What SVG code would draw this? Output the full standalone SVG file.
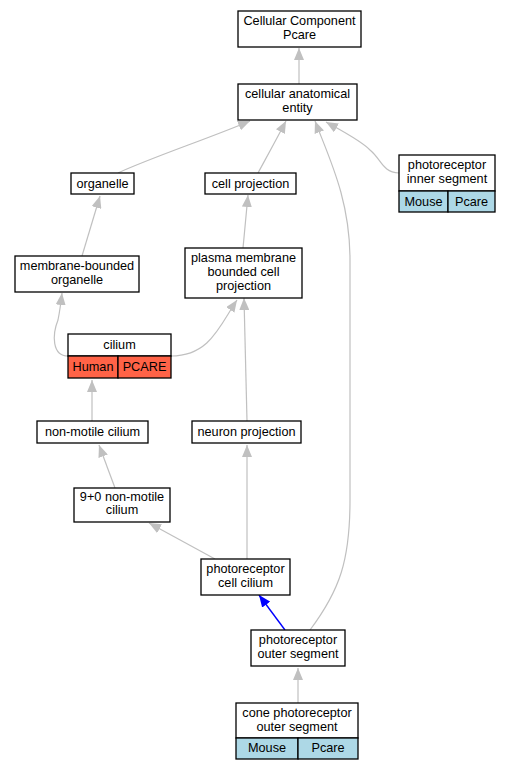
<svg xmlns="http://www.w3.org/2000/svg" width="509" height="771" viewBox="0 0 509 771">
<defs>
<marker id="ag" viewBox="0 0 12 10" refX="12" refY="5" markerWidth="12" markerHeight="10" markerUnits="userSpaceOnUse" orient="auto"><path d="M0,0 L12,5 L0,10 z" fill="#c0c0c0"/></marker>
<marker id="ab" viewBox="0 0 12 10" refX="12" refY="5" markerWidth="12" markerHeight="10" markerUnits="userSpaceOnUse" orient="auto"><path d="M0,0 L12,5 L0,10 z" fill="#0000ff"/></marker>
</defs>
<style>
.n{fill:#fff;stroke:#000;stroke-width:1.3}
.b{fill:#add8e6;stroke:#000;stroke-width:1.3}
.r{fill:#ff6347;stroke:#000;stroke-width:1.3}
text{font-family:"Liberation Sans",Arial,sans-serif;font-size:12.7px;text-anchor:middle;fill:#000}
.e{fill:none;stroke:#c0c0c0;stroke-width:1.2;marker-end:url(#ag)}
.eb{fill:none;stroke:#0000ff;stroke-width:1.4;marker-end:url(#ab)}
</style>
<rect width="509" height="771" fill="#fff"/>
<g id="edges">
<path class="e" d="M299,84 L299,48"/>
<path class="e" d="M118,173 C150,158 210,138 250,121"/>
<path class="e" d="M258,173 C265,160 275,142 286,121"/>
<path class="e" d="M399,173 C382,172 382,160 370,150 C360,140 340,130 326,122"/>
<path class="e" d="M243,248 L248,195"/>
<path class="e" d="M82,256 L100,196"/>
<path class="e" d="M68,356 C52,356 52,335 58,320 C60,310 61,302 62,293"/>
<path class="e" d="M171,356 C210,356 220,325 237,300"/>
<path class="e" d="M92,421 L92,380"/>
<path class="e" d="M247,421 L244,298"/>
<path class="e" d="M115,488 L99,445"/>
<path class="e" d="M215,559 L149,523"/>
<path class="e" d="M247,559 L247,445"/>
<path class="eb" d="M285,630 L259,595"/>
<path class="e" d="M310,630 C340,590 350,560 350,500 L350,260 C350,200 330,160 315,121"/>
<path class="e" d="M298,703 L298,668"/>
</g>
<g id="cc"><rect class="n" x="238" y="11" width="123" height="36"/><text x="299.5" y="25">Cellular Component</text><text x="299.5" y="39">Pcare</text></g>
<g id="cae"><rect class="n" x="238" y="84" width="119" height="36"/><text x="297.5" y="98">cellular anatomical</text><text x="297.5" y="112">entity</text></g>
<g id="organelle"><rect class="n" x="71" y="173" width="63" height="21"/><text x="102.5" y="188">organelle</text></g>
<g id="cellproj"><rect class="n" x="205" y="173" width="91" height="21"/><text x="250.5" y="188">cell projection</text></g>
<g id="pis"><rect class="n" x="399" y="155" width="96" height="36"/><text x="447" y="169">photoreceptor</text><text x="447" y="183">inner segment</text><rect class="b" x="399" y="191" width="49" height="21"/><rect class="b" x="448" y="191" width="47" height="21"/><text x="423.5" y="206">Mouse</text><text x="471.5" y="206">Pcare</text></g>
<g id="mbo"><rect class="n" x="15" y="256" width="124" height="36"/><text x="77" y="270">membrane-bounded</text><text x="77" y="284">organelle</text></g>
<g id="pmbcp"><rect class="n" x="185" y="248" width="117" height="50"/><text x="243.5" y="262">plasma membrane</text><text x="243.5" y="276">bounded cell</text><text x="243.5" y="290">projection</text></g>
<g id="cilium"><rect class="n" x="68" y="334" width="103" height="22"/><text x="119.5" y="349">cilium</text><rect class="r" x="68" y="356" width="50" height="22"/><rect class="r" x="118" y="356" width="53" height="22"/><text x="93" y="371">Human</text><text x="144.5" y="371">PCARE</text></g>
<g id="nmc"><rect class="n" x="37" y="421" width="111" height="22"/><text x="92.5" y="436">non-motile cilium</text></g>
<g id="np"><rect class="n" x="192" y="421" width="109" height="22"/><text x="246.5" y="436">neuron projection</text></g>
<g id="c90"><rect class="n" x="74" y="488" width="96" height="34"/><text x="122" y="501">9+0 non-motile</text><text x="122" y="514">cilium</text></g>
<g id="pcc"><rect class="n" x="201" y="559" width="89" height="36"/><text x="245.5" y="573">photoreceptor</text><text x="245.5" y="587">cell cilium</text></g>
<g id="pos"><rect class="n" x="251" y="630" width="94" height="36"/><text x="298" y="644">photoreceptor</text><text x="298" y="658">outer segment</text></g>
<g id="cpos"><rect class="n" x="236" y="703" width="122" height="35"/><text x="297" y="717">cone photoreceptor</text><text x="297" y="731">outer segment</text><rect class="b" x="236" y="738" width="62" height="21"/><rect class="b" x="298" y="738" width="60" height="21"/><text x="267" y="752">Mouse</text><text x="328" y="752">Pcare</text></g>
</svg>
